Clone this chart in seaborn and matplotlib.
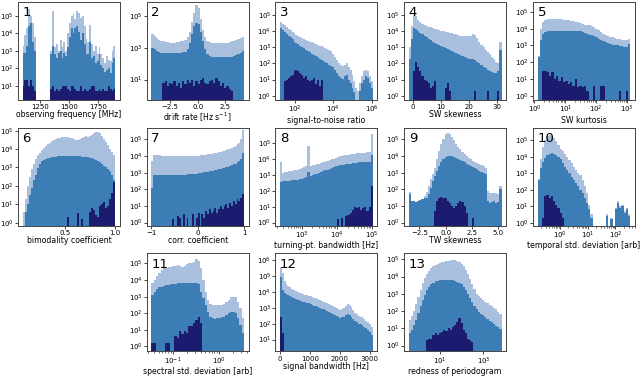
import numpy as np
import matplotlib
matplotlib.use("Agg")
import matplotlib.pyplot as plt
from matplotlib.ticker import NullLocator
import seaborn as sns

n = np.nan

# bin heights are log10(count); n = empty bin
# lt = all candidates, md = subset, dk = small subset

# 1 observing frequency [MHz], bins 1100-1900
freq_lt = [3.3, 3.9, 4.3, 5.4, 5.0, 4.6, 3.8, n, n, n, n, n, n, n, n,
           3.0, 5.3, 3.2, 3.4, 3.0, 3.6, 3.2, 3.5, 3.0, 4.0,
           4.6, 5.0, 5.1, 4.8, 5.3, 5.2, 4.9, 5.0, 4.4, 3.7,
           3.5, 4.5, 3.4, 3.0, 3.3, 2.8, 3.2, 2.8, 2.6, 2.3,
           2.7, 2.5, 2.4, 3.0, 3.3]
freq_md = [2.9, 2.9, 3.3, 4.4, 4.6, 3.5, 3.0, n, n, n, n, n, n, n, n,
           2.8, 3.3, 2.8, 2.6, 2.9, 3.0, 2.6, 2.9, 2.7, 3.2,
           3.8, 4.3, 4.0, 4.3, 4.4, 4.1, 3.6, 4.0, 3.4, 2.8,
           2.8, 3.5, 2.6, 2.7, 2.3, 2.4, 2.8, 2.2, 2.0, 1.8,
           1.9, 2.0, 1.7, 2.3, 2.6]
freq_dk = [1.0, 1.3, 1.3, 1.0, 1.3, 1.0, 0.7, n, n, n, n, n, n, n, n,
           0.8, 1.0, 0.7, 0.8, 0.7, 0.8, 1.0, 1.0, 1.0, 0.8,
           0.7, 1.0, 1.0, 0.8, 0.7, 0.7, 1.0, 0.7, 0.8, 0.7,
           0.7, 0.8, 1.0, 1.0, 0.7, 0.7, 0.8, 0.7, 0.8, 0.7,
           0.7, 1.0, 0.8, 0.7, 0.8]

# 2 drift rate [Hz/s], bins -4.2..4.2
drift_lt = [3.9, 3.75, 3.6, 3.5, 3.45, 3.4, 3.38, 3.35, 3.33, 3.33,
            3.33, 3.35, 3.35, 3.4, 3.45, 3.5, 3.7, 4.0, 4.6, 5.2,
            5.7, 5.5, 4.8, 4.1, 3.7, 3.45, 3.35, 3.3, 3.3, 3.3,
            3.3, 3.3, 3.3, 3.3, 3.32, 3.35, 3.4, 3.45, 3.5, 3.55,
            3.6, 3.7]
drift_md = [3.0, 2.9, 2.8, 2.75, 2.7, 2.68, 2.65, 2.65, 2.65, 2.65,
            2.65, 2.65, 2.67, 2.7, 2.72, 2.75, 2.9, 3.3, 3.9, 4.4,
            4.55, 4.5, 4.0, 3.4, 2.9, 2.6, 2.5, 2.45, 2.42, 2.4,
            2.4, 2.4, 2.4, 2.4, 2.4, 2.42, 2.45, 2.5, 2.55, 2.6,
            2.7, 2.8]
drift_dk = [n, n, n, n, n, 0.8, 0.9, 0.6, 0.8, 0.7,
            0.9, 0.6, 0.8, 0.5, 0.9, 0.7, 1.0, 0.8, 1.0, 0.6,
            0.9, 0.7, 1.0, 1.1, 0.8, 0.7, 0.9, 1.0, 0.8, 1.1,
            0.9, 0.6, 0.8, 0.5, 0.6, 0.4, 0.3, n, n, n,
            n, n]

# 3 signal-to-noise ratio, log bins 10^1.25..10^6.05
snr_lt = [4.55, 4.45, 4.35, 4.25, 4.15, 4.05, 3.95, 3.85, 3.78, 3.7,
          3.62, 3.55, 3.5, 3.45, 3.4, 3.35, 3.3, 3.25, 3.2, 3.15,
          3.1, 3.05, 3.0, 2.95, 2.9, 2.85, 2.75, 2.6, 2.4, 2.2,
          2.0, 1.9, 1.85, 1.9, 2.0, 1.8, 1.6, 1.3, 0.9, 0.5,
          0.3, 0.8, 1.2, 1.5, 1.6, 1.5, 1.2, 0.9]
snr_md = [4.2, 4.08, 3.96, 3.84, 3.72, 3.6, 3.48, 3.35, 3.27, 3.18,
          3.1, 3.02, 2.93, 2.85, 2.77, 2.68, 2.6, 2.52, 2.45, 2.37,
          2.3, 2.22, 2.15, 2.07, 2.0, 1.92, 1.85, 1.77, 1.6, 1.4,
          1.2, 1.1, 1.05, 1.2, 1.3, 1.0, 0.8, 0.5, 0.2, n,
          n, 0.3, 0.8, 1.0, 1.2, 1.1, 0.8, 0.5]
snr_dk = [n, n, 0.9, 1.0, 1.1, 1.2, 1.3, 1.5, 1.6, 1.55,
          1.4, 1.3, 1.1, 1.2, 1.0, 0.9, 1.0, 1.1, 0.7, 1.0,
          0.6, 1.0] + [n] * 26

# 4 SW skewness, bins -1.5..31.5
skew_lt = [3.0, 4.3, 5.0, 4.9, 4.7, 4.55, 4.45, 4.38, 4.32, 4.27,
           4.22, 4.18, 4.14, 4.1, 4.06, 4.02, 3.98, 3.95, 3.92, 3.88,
           3.85, 3.82, 3.79, 3.75, 3.72, 3.7, 3.68, 3.67, 3.68, 3.72,
           3.8, 3.75, 3.55, 3.35, 3.15, 3.0, 2.85, 2.7, 2.55, 2.4,
           2.25, 2.1, 2.0, 3.3]
skew_md = [2.3, 3.5, 4.2, 4.15, 4.0, 3.9, 3.8, 3.7, 3.6, 3.5,
           3.42, 3.35, 3.28, 3.2, 3.13, 3.06, 3.0, 2.94, 2.88, 2.82,
           2.76, 2.7, 2.64, 2.58, 2.52, 2.46, 2.4, 2.35, 2.3, 2.28,
           2.3, 2.2, 2.1, 2.0, 1.9, 1.8, 1.7, 1.6, 1.5, 1.45,
           1.4, 1.4, 1.5, 2.8]
skew_dk = [n, n, 1.5, 2.1, 1.8, 1.5, 1.2, 1.0, 0.9, 0.8,
           0.5, 0.6, 0.9, n, n, n, n, 0.5, 0.8, 0.3,
           n, n, n, n, n, n, n, n, n, n,
           n, 0.3, n, n, n, n, n, 0.3, n, n,
           n, n, 0.3, n]

# 5 SW kurtosis, log bins 10^0.1..10^3.1
kurt_lt = [2.4, 4.0, 4.4, 4.5, 4.55, 4.55, 4.55, 4.55, 4.55, 4.55,
           4.55, 4.5, 4.5, 4.5, 4.45, 4.45, 4.4, 4.4, 4.35, 4.3,
           4.25, 4.2, 4.2, 4.15, 4.1, 4.0, 3.9, 3.8, 3.7, 3.6,
           3.55, 3.5, 3.5, 3.45, 3.4, 3.4, 3.35, 3.35, 3.3, 3.4]
kurt_md = [2.3, 3.3, 3.7, 3.8, 3.85, 3.85, 3.85, 3.85, 3.85, 3.85,
           3.85, 3.85, 3.85, 3.85, 3.85, 3.85, 3.85, 3.85, 3.85, 3.8,
           3.75, 3.7, 3.65, 3.6, 3.55, 3.5, 3.4, 3.3, 3.25, 3.2,
           3.15, 3.1, 3.05, 3.0, 3.0, 2.95, 2.95, 2.9, 2.9, 3.1]
kurt_dk = [n, n, 1.5, 1.5, 1.4, 1.2, 1.4, 1.0, 1.2, 0.9,
           1.1, 0.8, 0.9, 0.7, 0.8, 0.6, 1.0, 0.5, 0.6, 0.5,
           0.6, 0.3, n, n, 0.6, n, n, 0.6, 0.6, n,
           n, n, n, n, n, 0.3, n, n, 0.3, n]

# 6 bimodality coefficient, bins 0.08..1.0
bimod_lt = [0.6, 1.3, 2.0, 2.5, 2.9, 3.2, 3.45, 3.65, 3.8, 3.95,
            4.05, 4.15, 4.25, 4.35, 4.45, 4.5, 4.55, 4.6, 4.62, 4.64,
            4.65, 4.65, 4.64, 4.62, 4.58, 4.53, 4.5, 4.5, 4.55, 4.62,
            4.68, 4.7, 4.68, 4.7, 4.75, 4.85, 4.92, 4.95, 4.85, 4.7,
            4.55, 4.4, 4.2, 4.0, 3.85, 3.7]
bimod_md = [n, 0.6, 1.0, 1.5, 1.9, 2.3, 2.6, 2.95, 3.2, 3.35,
            3.42, 3.47, 3.5, 3.52, 3.55, 3.57, 3.58, 3.6, 3.6, 3.6,
            3.6, 3.6, 3.6, 3.6, 3.6, 3.6, 3.6, 3.6, 3.6, 3.58,
            3.57, 3.55, 3.55, 3.5, 3.5, 3.45, 3.4, 3.35, 3.3, 3.2,
            3.1, 3.0, 2.9, 2.8, 2.6, 2.3]
bimod_dk = [n] * 22 + [0.3, n, n, n, n, 0.5, n, 0.2, n, n,
                       n, 0.6, 0.8, 0.7, 0.4, 0.3, 0.9, 1.0, 1.1, 0.8,
                       0.9, 1.3, 1.6, 2.2]

# 7 corr. coefficient, bins -1..1
corr_lt = [3.7, 4.05, 4.05, 4.05, 4.05, 4.03, 4.02, 4.0, 4.0, 4.0,
           3.98, 3.98, 3.98, 3.98, 3.98, 3.98, 3.98, 3.98, 3.98, 4.0,
           4.0, 4.0, 4.0, 4.02, 4.02, 4.03, 4.04, 4.05, 4.07, 4.08,
           4.1, 4.12, 4.14, 4.16, 4.18, 4.2, 4.23, 4.26, 4.29, 4.32,
           4.35, 4.4, 4.45, 4.5, 4.55, 4.62, 4.7, 4.8, 5.0, 5.55]
corr_md = [2.1, 2.85, 2.85, 2.85, 2.85, 2.85, 2.85, 2.85, 2.85, 2.85,
           2.85, 2.85, 2.86, 2.86, 2.87, 2.87, 2.88, 2.88, 2.89, 2.9,
           2.9, 2.9, 2.92, 2.93, 2.95, 2.97, 2.99, 3.0, 3.02, 3.04,
           3.06, 3.08, 3.1, 3.12, 3.15, 3.18, 3.2, 3.23, 3.26, 3.3,
           3.33, 3.37, 3.4, 3.45, 3.5, 3.55, 3.62, 3.7, 3.85, 4.2]
corr_dk = [n] * 11 + [0.2, n, n, 0.4, 0.3, n, 0.5, n, 0.3,
                      n, n, 0.5, n, 0.3, 0.6, n, 0.5, 0.3, 0.7,
                      0.5, 0.8, 0.6, 0.7, 0.9, 0.6, 0.8, 1.0, 0.8, 1.0,
                      1.1, 0.9, 1.2, 1.0, 1.3, 1.1, 1.4, 1.3, 1.5, 1.7]

# 8 turning-pt. bandwidth [Hz], log bins 10^2.38..10^5.02
tp_lt = [3.8, 3.15, 3.2, 3.2, 3.25, 3.25, 3.3, 3.3, 3.35, 3.4,
         3.45, 3.5, 3.55, 4.85, 3.6, 3.62, 3.65, 3.68, 3.7, 3.75,
         3.8, 3.85, 3.9, 3.95, 4.0, 4.05, 4.1, 4.15, 4.2, 4.22,
         4.25, 4.28, 4.3, 4.32, 4.35, 4.35, 4.38, 4.4, 4.4, 4.42,
         4.42, 4.45, 4.45, 5.6]
tp_md = [2.55, 2.6, 2.6, 2.62, 2.64, 2.66, 2.68, 2.7, 2.72, 2.74,
         2.76, 2.8, 2.85, 3.2, 2.95, 3.0, 3.05, 3.1, 3.15, 3.2,
         3.25, 3.3, 3.35, 3.4, 3.45, 3.5, 3.55, 3.6, 3.62, 3.64,
         3.66, 3.68, 3.7, 3.72, 3.74, 3.76, 3.78, 3.8, 3.8, 3.82,
         3.82, 3.84, 3.85, 4.3]
tp_dk = [n] * 27 + [0.2, n, 0.3, n, 0.4, 0.5, 0.6, 0.8, 1.0, 0.9,
                    1.0, 0.8, 0.9, 1.0, 0.7, 1.0, 2.3]

# 9 TW skewness, bins -3.5..5.3
tw_lt = [1.83, 1.1, 1.1, 1.05, 1.1, 1.2, 1.35, 1.6, 1.85, 2.2,
         2.6, 2.95, 3.3, 3.8, 4.3, 4.7, 5.05, 5.35, 5.4, 5.3,
         5.15, 4.95, 4.75, 4.55, 4.4, 4.25, 4.1, 4.0, 3.9, 3.8,
         3.72, 3.65, 3.6, 3.52, 3.45, 3.38, 3.3, 1.9, 1.8, 1.75,
         1.8, 1.75, 1.7, 2.2]
tw_md = [1.7, 1.3, 1.3, 1.25, 1.3, 1.35, 1.4, 1.45, 1.5, 1.7,
         2.1, 2.5, 2.8, 3.1, 3.4, 3.65, 3.85, 3.95, 4.0, 4.0,
         4.0, 3.95, 3.9, 3.85, 3.78, 3.7, 3.62, 3.55, 3.48, 3.4,
         3.33, 3.27, 3.2, 3.12, 3.05, 2.98, 2.9, 1.3, 1.2, 1.25,
         1.3, 1.2, 1.25, 2.0]
tw_dk = [n] * 12 + [0.7, 1.3, 1.5, 1.55, 1.5, 1.45, 1.3, 1.2,
                    1.0, 0.85, 1.0, 1.2, 1.3, 1.25, 1.0, 0.6, n, n,
                    0.3] + [n] * 13

# 10 temporal std. deviation, log bins 10^-0.82..10^2.54
tsd_lt = [2.65, 3.9, 4.6, 5.0, 5.25, 5.35, 5.3, 5.15, 4.95, 4.75,
          4.5, 4.35, 4.2, 4.0, 3.8, 3.6, 3.4, 3.2, 3.05, 2.9,
          2.6, 2.2, 1.8, 1.1, 0.5, n, n, n, n, n,
          n, 0.5, n, 0.3, n, 0.9, 1.3, 1.0, 1.1, 0.7,
          0.9, 0.5]
tsd_md = [2.6, 3.3, 3.7, 3.95, 4.1, 4.2, 4.22, 4.2, 4.1, 4.0,
          3.9, 3.6, 3.4, 3.2, 3.0, 2.8, 2.6, 2.4, 2.2, 2.0,
          1.8, 1.5, 1.2, 0.8, 0.3, n, n, n, n, n,
          n, 0.4, n, 0.2, n, 0.8, 1.2, 0.9, 1.0, 0.6,
          0.8, 0.4]
tsd_dk = [n, n, 0.3, 1.6, 1.7, 1.5, 1.6, 1.3, 1.1, 0.9, 0.6, 0.3] + [n] * 30

# 11 spectral std. deviation, log bins 10^-1.46..10^0.54
ssd_lt = [3.8, 4.0, 4.25, 4.45, 4.6, 4.7, 4.75, 4.8, 4.8, 4.85,
          4.85, 4.9, 4.85, 4.8, 4.85, 4.95, 5.0, 5.05, 5.1, 5.25,
          5.15, 4.7, 4.0, 3.3, 2.8, 2.55, 2.5, 2.5, 2.5, 2.5,
          2.5, 2.55, 2.65, 2.8, 2.95, 3.0, 2.95, 2.7, 2.3, 1.7]
ssd_md = [3.1, 3.3, 3.45, 3.55, 3.6, 3.65, 3.7, 3.72, 3.75, 3.77,
          3.78, 3.8, 3.8, 3.8, 3.8, 3.82, 3.82, 3.8, 3.8, 3.8,
          3.75, 3.3, 2.9, 2.5, 2.1, 1.8, 1.7, 1.65, 1.7, 1.7,
          1.75, 1.8, 1.9, 2.0, 2.1, 2.1, 2.0, 1.7, 1.3, 0.8]
ssd_dk = [0.2, 0.2, n, n, n, n, 0.2, 0.2, n, n,
          0.65, 0.5, 0.9, 0.75, 0.9, 0.8, 1.25, 1.2, 1.4, 1.6,
          1.75, 1.4] + [n] * 18

# 12 signal bandwidth [Hz], bins 0..3100
bw_lt = [5.6, 5.2, 4.7, 4.5, 4.4, 4.3, 4.22, 4.15, 4.08, 4.02,
         3.97, 3.92, 3.88, 3.84, 3.8, 3.76, 3.73, 3.68, 3.64, 3.6,
         3.55, 3.5, 3.45, 3.4, 3.35, 3.3, 3.25, 3.2, 3.12, 3.05,
         2.98, 2.92, 2.88, 2.92, 3.0, 3.15, 3.25, 3.2, 3.05, 2.85,
         2.7, 2.6, 2.5, 2.45, 2.4, 2.3, 2.2, 2.1, 1.95, 1.8]
bw_md = [4.95, 4.1, 3.95, 3.88, 3.8, 3.75, 3.68, 3.62, 3.56, 3.52,
         3.48, 3.44, 3.4, 3.36, 3.32, 3.28, 3.25, 3.2, 3.15, 3.1,
         3.05, 3.0, 2.95, 2.9, 2.85, 2.8, 2.75, 2.7, 2.62, 2.55,
         2.48, 2.42, 2.38, 2.4, 2.45, 2.55, 2.62, 2.58, 2.45, 2.3,
         2.2, 2.1, 2.0, 1.95, 1.9, 1.8, 1.7, 1.6, 1.45, 1.3]
bw_dk = [2.45, 1.4] + [n] * 48

# 13 redness of periodogram, log bins 10^-0.46..10^3.84
red_lt = [1.5, 1.7, 2.0, 2.4, 2.8, 3.2, 3.6, 3.9, 4.15, 4.35,
          4.5, 4.6, 4.7, 4.75, 4.8, 4.82, 4.85, 4.88, 4.9, 4.95,
          4.97, 4.95, 4.9, 4.85, 4.75, 4.6, 4.4, 4.15, 3.85, 3.55,
          3.25, 3.0, 2.85, 2.75, 2.65, 2.55, 2.45, 2.35, 2.3, 2.2,
          2.1, 1.95, 1.8]
red_md = [0.7, 0.9, 1.2, 1.5, 1.9, 2.3, 2.65, 2.95, 3.2, 3.4,
          3.55, 3.65, 3.72, 3.77, 3.8, 3.8, 3.8, 3.8, 3.8, 3.8,
          3.78, 3.75, 3.7, 3.65, 3.55, 3.4, 3.2, 3.0, 2.75, 2.5,
          2.3, 2.1, 1.95, 1.85, 1.75, 1.65, 1.55, 1.45, 1.35, 1.25,
          1.15, 1.05, 0.95]
red_dk = [n] * 8 + [0.3, 0.4, 0.4, 0.6, 0.7, 0.6, 0.7, 0.8, 0.9, 0.85,
                    1.0, 0.9, 1.1, 1.2, 1.35, 1.6, 1.3, 0.9, 0.7, 0.4,
                    0.3, 0.2] + [n] * 13

labels = ["observing frequency [MHz]", r"drift rate [Hz s$^{-1}$]",
          "signal-to-noise ratio", "SW skewness", "SW kurtosis",
          "bimodality coefficient", "corr. coefficient",
          "turning-pt. bandwidth [Hz]", "TW skewness",
          "temporal std. deviation [arb]", "spectral std. deviation [arb]",
          "signal bandwidth [Hz]", "redness of periodogram"]

series = [(freq_lt, freq_md, freq_dk), (drift_lt, drift_md, drift_dk),
          (snr_lt, snr_md, snr_dk), (skew_lt, skew_md, skew_dk),
          (kurt_lt, kurt_md, kurt_dk), (bimod_lt, bimod_md, bimod_dk),
          (corr_lt, corr_md, corr_dk), (tp_lt, tp_md, tp_dk),
          (tw_lt, tw_md, tw_dk), (tsd_lt, tsd_md, tsd_dk),
          (ssd_lt, ssd_md, ssd_dk), (bw_lt, bw_md, bw_dk),
          (red_lt, red_md, red_dk)]

# bin range (log10 units when xlog), xlog, y-limits (log10), y decades, x ticks
setup = [
    ((1100, 1900), False, (0.19, 5.81), [1, 2, 3, 4, 5], [1250, 1500, 1750]),
    ((-4.2, 4.2), False, (-0.27, 5.89), [1, 3, 5], [-2.5, 0, 2.5]),
    ((1.25, 6.05), True, (-0.25, 5.8), [0, 1, 2, 3, 4, 5], [1e2, 1e4, 1e6]),
    ((-1.5, 31.5), False, (-0.25, 5.8), [0, 1, 2, 3, 4, 5], [0, 10, 20, 30]),
    ((0.1, 3.1), True, (-0.24, 5.6), [0, 1, 2, 3, 4, 5], [1, 10, 100, 1000]),
    ((0.08, 1.0), False, (-0.16, 5.16), [0, 1, 2, 3, 4, 5], [0.5, 1.0]),
    ((-1.0, 1.0), False, (-0.18, 5.71), [0, 1, 2, 3, 4, 5], [-1, 0, 1]),
    ((2.38, 5.02), True, (-0.19, 6.0), [0, 1, 2, 3, 4, 5], [1e3, 1e4, 1e5]),
    ((-3.5, 5.3), False, (-0.18, 5.71), [0, 1, 2, 3, 4, 5], [-2.5, 0, 2.5, 5.0]),
    ((-0.82, 2.54), True, (-0.18, 5.78), [0, 1, 2, 3, 4, 5], [1, 10, 100]),
    ((-1.46, 0.54), True, (-0.3, 5.6), [0, 1, 2, 3, 4, 5], [0.1, 1]),
    ((0, 3100), False, (0.25, 6.44), [1, 2, 3, 4, 5, 6], [0, 1000, 2000, 3000]),
    ((-0.46, 3.84), True, (-0.34, 5.34), [0, 1, 2, 3, 4, 5], [10, 1000]),
]

cells = [(0, 0), (0, 1), (0, 2), (0, 3), (0, 4),
         (1, 0), (1, 1), (1, 2), (1, 3), (1, 4),
         (2, 1), (2, 2), (2, 3)]

colors = ["#a8c0dd", "#3d7db6", "#1b1b70"]

fig = plt.figure(figsize=(6.4, 3.77), dpi=100)
gs = fig.add_gridspec(3, 5, left=0.028, right=0.992, top=0.995, bottom=0.068,
                      wspace=0.262, hspace=0.285)

for k, (sers, (brange, xlog, ylim, ydec, xt), cell) in enumerate(zip(series, setup, cells)):
    ax = fig.add_subplot(gs[cell])
    lo, hi = brange
    nb = len(sers[0])
    # bin edges in data units (geometric for log panels)
    edges = np.linspace(lo, hi, nb + 1)
    if xlog:
        edges = 10 ** edges
        xs = np.sqrt(edges[:-1] * edges[1:])
    else:
        xs = 0.5 * (edges[:-1] + edges[1:])
    for vals, col in zip(sers, colors):
        cnt = np.nan_to_num(10 ** np.array(vals, dtype=float))
        keep = cnt > 0
        sns.histplot(x=xs[keep], weights=cnt[keep], bins=edges.tolist(),
                     color=col, alpha=1, linewidth=0, ax=ax)
    if xlog:
        ax.set_xscale("log")
    ax.set_yscale("log")
    pad = 0.05 * (hi - lo)
    if xlog:
        ax.set_xlim(10 ** (lo - pad), 10 ** (hi + pad))
    else:
        ax.set_xlim(lo - pad, hi + pad)
    ax.set_ylim(10 ** ylim[0], 10 ** ylim[1])
    ax.set_yticks([10.0 ** d for d in ydec])
    ax.yaxis.set_minor_locator(NullLocator())
    ax.set_xticks(xt)
    ax.set_ylabel("")
    ax.set_xlabel(labels[k], fontsize=5.6, labelpad=0.3)
    ax.tick_params(labelsize=5, length=2, width=0.5, pad=1)
    ax.tick_params(which="minor", length=1.2, width=0.4)
    for s in ax.spines.values():
        s.set_linewidth(0.7)
        s.set_color("#444444")
    ax.text(0.045, 0.955, str(k + 1), transform=ax.transAxes, fontsize=9.5,
            ha="left", va="top")

fig.savefig("out.png", dpi=100)
